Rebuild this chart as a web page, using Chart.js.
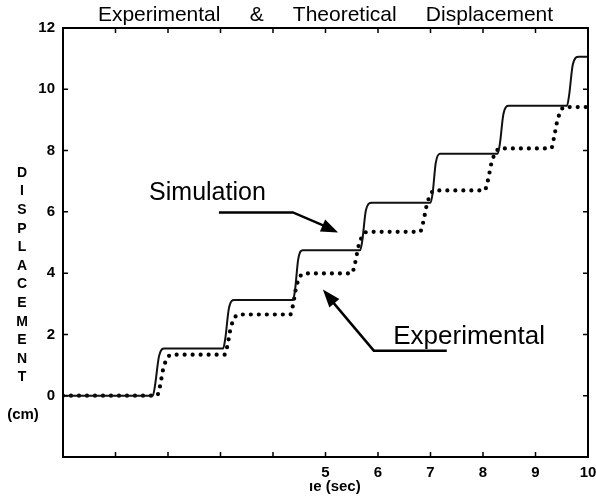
<!DOCTYPE html>
<html>
<head>
<meta charset="utf-8">
<script src="https://cdn.jsdelivr.net/npm/chart.js@4/dist/chart.umd.min.js"></script>
<style>
  html, body { margin: 0; padding: 0; background: #fff; }
  #wrap { width: 596px; height: 503px; position: relative; }
</style>
</head>
<body>
<div id="wrap"><canvas id="grafico"></canvas></div>
<script>
// Simulação (linha cheia)
const tempoSim = [0, 1.71, 1.75, 1.83, 1.93, 3.05, 3.09, 3.16, 3.26, 4.38, 4.42, 4.48, 4.57,
  5.66, 5.70, 5.77, 5.88, 7.00, 7.04, 7.10, 7.18, 8.28, 8.32, 8.39, 8.49, 9.60, 9.64, 9.71, 9.82, 10];
const deslSim = [0, 0, 0.3, 1.3, 1.54, 1.54, 1.85, 2.85, 3.12, 3.12, 3.45, 4.45, 4.75,
  4.75, 5.05, 6.05, 6.30, 6.30, 6.6, 7.6, 7.90, 7.90, 8.2, 9.2, 9.46, 9.46, 9.8, 10.8, 11.06, 11.06];

// Experimental (pontilhada)
const tempoExp = [0, 1.79, 1.84, 1.92, 2.07, 3.08, 3.13, 3.20, 3.35, 4.33, 4.38, 4.45, 4.59,
  5.50, 5.56, 5.64, 5.80, 6.80, 6.86, 6.94, 7.08, 8.03, 8.09, 8.17, 8.33, 9.30, 9.35, 9.42, 9.55, 10];
const deslExp = [0, 0, 0.25, 0.95, 1.34, 1.34, 1.62, 2.25, 2.65, 2.65, 2.95, 3.6, 3.99,
  3.99, 4.3, 4.95, 5.35, 5.35, 5.65, 6.3, 6.70, 6.70, 7.0, 7.65, 8.07, 8.07, 8.4, 9.0, 9.42, 9.42];

// Rótulos dos eixos
const xTicks = [0, 1, 2, 3, 4, 5, 6, 7, 8, 9, 10];
const xTickLabels = ['', '', '', '', '', '5', '6', '7', '8', '9', '10'];
const yTicks = [-2, 0, 2, 4, 6, 8, 10, 12];
const yTickLabels = ['', '0', '2', '4', '6', '8', '10', '12'];

const titulo = 'Experimental     &     Theoretical     Displacement';
const tituloY = ['D', 'I', 'S', 'P', 'L', 'A', 'C', 'E', 'M', 'E', 'N', 'T'];
const FONTE = '"Liberation Sans", Arial, Helvetica, sans-serif';

function pares(xs, ys) {
  return xs.map((x, i) => ({ x: x, y: ys[i] }));
}

function seta(ctx, x0, y0, x1, y1, comp, larg) {
  const ang = Math.atan2(y1 - y0, x1 - x0);
  ctx.beginPath();
  ctx.moveTo(x1, y1);
  ctx.lineTo(x1 - comp * Math.cos(ang) + larg / 2 * Math.sin(ang), y1 - comp * Math.sin(ang) - larg / 2 * Math.cos(ang));
  ctx.lineTo(x1 - comp * Math.cos(ang) - larg / 2 * Math.sin(ang), y1 - comp * Math.sin(ang) + larg / 2 * Math.cos(ang));
  ctx.closePath();
  ctx.fill();
}

// Moldura, marcas internas, títulos e anotações
const plugDesenho = {
  id: 'desenho',
  afterDraw(chart) {
    const ctx = chart.ctx;
    const a = chart.chartArea;
    const sx = chart.scales.x, sy = chart.scales.y;
    ctx.save();
    ctx.strokeStyle = '#000';
    ctx.fillStyle = '#000';

    // moldura
    ctx.lineWidth = 2;
    ctx.strokeRect(a.left, a.top, a.right - a.left, a.bottom - a.top);

    // marcas para dentro
    ctx.lineWidth = 1.5;
    ctx.beginPath();
    xTicks.forEach(v => {
      const px = sx.getPixelForValue(v);
      ctx.moveTo(px, a.bottom); ctx.lineTo(px, a.bottom - 5);
      ctx.moveTo(px, a.top); ctx.lineTo(px, a.top + 5);
    });
    yTicks.forEach(v => {
      const py = sy.getPixelForValue(v);
      ctx.moveTo(a.left, py); ctx.lineTo(a.left + 5, py);
      ctx.moveTo(a.right, py); ctx.lineTo(a.right - 5, py);
    });
    ctx.stroke();

    // rótulos das marcas
    ctx.font = 'bold 15px ' + FONTE;
    ctx.textAlign = 'right';
    ctx.textBaseline = 'middle';
    yTicks.forEach((v, i) => {
      ctx.fillText(yTickLabels[i], a.left - 8, sy.getPixelForValue(v));
    });
    ctx.textAlign = 'center';
    ctx.textBaseline = 'top';
    xTicks.forEach((v, i) => {
      ctx.fillText(xTickLabels[i], sx.getPixelForValue(v), a.bottom + 8);
    });

    // título
    ctx.font = '21px ' + FONTE;
    ctx.textBaseline = 'middle';
    ctx.fillText(titulo, (a.left + a.right) / 2, 15);

    // título do eixo y (letras empilhadas)
    ctx.font = 'bold 14px ' + FONTE;
    tituloY.forEach((l, i) => {
      ctx.fillText(l, 22, 173 + i * 18.6);
    });
    ctx.font = 'bold 15px ' + FONTE;
    ctx.fillText('(cm)', 23, 415);

    // título do eixo x (cortado no original)
    ctx.textAlign = 'left';
    ctx.fillText('ıe (sec)', 309, 487);

    // anotação "Simulation"
    ctx.font = '25px ' + FONTE;
    ctx.textBaseline = 'alphabetic';
    ctx.fillText('Simulation', sx.getPixelForValue(1.64), sy.getPixelForValue(6.38));
    ctx.lineWidth = 2.5;
    const s0 = [sx.getPixelForValue(2.97), sy.getPixelForValue(5.98)];
    const s1 = [sx.getPixelForValue(4.38), sy.getPixelForValue(5.98)];
    const s2 = [sx.getPixelForValue(5.24), sy.getPixelForValue(5.33)];
    ctx.beginPath();
    ctx.moveTo(s0[0], s0[1]); ctx.lineTo(s1[0], s1[1]); ctx.lineTo(s2[0] - 8, s2[1] - 4);
    ctx.stroke();
    seta(ctx, s1[0], s1[1], s2[0], s2[1], 17, 13);

    // anotação "Experimental"
    ctx.font = '26px ' + FONTE;
    ctx.fillText('Experimental', sx.getPixelForValue(6.29), sy.getPixelForValue(1.70));
    const e0 = [sx.getPixelForValue(5.92), sy.getPixelForValue(1.47)];
    const e1 = [sx.getPixelForValue(7.31), sy.getPixelForValue(1.47)];
    const e2 = [sx.getPixelForValue(4.95), sy.getPixelForValue(3.47)];
    ctx.beginPath();
    ctx.moveTo(e1[0], e1[1]); ctx.lineTo(e0[0], e0[1]); ctx.lineTo(e2[0] + 6, e2[1] + 8);
    ctx.stroke();
    seta(ctx, e0[0], e0[1], e2[0], e2[1], 18, 13);

    ctx.restore();
  }
};

new Chart(document.getElementById('grafico'), {
  type: 'line',
  data: {
    datasets: [
      {
        label: 'Simulation',
        data: pares(tempoSim, deslSim),
        borderColor: '#111',
        borderWidth: 2,
        pointRadius: 0,
        cubicInterpolationMode: 'monotone',
        fill: false
      },
      {
        label: 'Experimental',
        data: pares(tempoExp, deslExp),
        borderColor: '#000',
        borderWidth: 4.2,
        borderDash: [0, 8],
        borderCapStyle: 'round',
        pointRadius: 0,
        cubicInterpolationMode: 'monotone',
        fill: false
      }
    ]
  },
  options: {
    responsive: true,
    maintainAspectRatio: false,
    animation: false,
    layout: { padding: { left: 63, right: 8, top: 28, bottom: 46 } },
    scales: {
      x: { type: 'linear', min: 0, max: 10, display: false },
      y: { type: 'linear', min: -2, max: 12, display: false }
    },
    plugins: {
      legend: { display: false },
      tooltip: { enabled: false }
    }
  },
  plugins: [plugDesenho]
});
</script>
</body>
</html>
